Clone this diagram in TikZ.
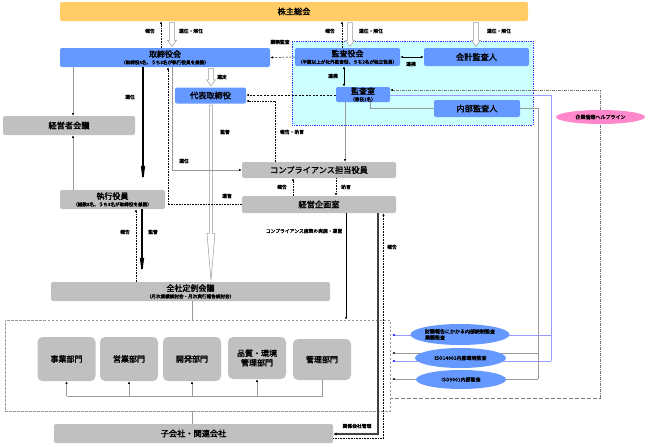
\documentclass[tikz,border=0pt]{standalone}
\usepackage{fontspec}
\setmainfont{Noto Sans CJK JP}[AutoFakeBold=2]
\usetikzlibrary{arrows.meta,calc,shapes.geometric}
\definecolor{bl}{HTML}{6699FF}
\definecolor{gr}{HTML}{C0C0C0}
\definecolor{og}{HTML}{FFCC66}
\definecolor{cy}{HTML}{CCFFFF}
\definecolor{pk}{HTML}{FF88CC}
\definecolor{bd}{HTML}{3333FF}
\definecolor{ln}{HTML}{999999}
\definecolor{bln}{HTML}{9999FF}
\pgfdeclarelayer{bgzero}
\pgfdeclarelayer{bgone}
\pgfsetlayers{bgzero,bgone,main}
\newcommand\fa{\fontsize{8.2}{9}\selectfont}
\newcommand\fb{\fontsize{8}{9}\selectfont}
\newcommand\fs{\fontsize{4.6}{5}\selectfont}
\newcommand\hollowarr[6]{%
 \draw[ln, fill=white, line width=0.5pt] let \p1=(#2), \p2=(#3) in
  ({#1pt-#4pt},{\y1-1.5pt}) -- ({#1pt-#4pt},{\y2+#6pt+1.5pt}) -- ({#1pt-#5pt},{\y2+#6pt+1.5pt}) -- ({#1pt},{\y2+1.5pt}) -- ({#1pt+#5pt},{\y2+#6pt+1.5pt}) -- ({#1pt+#4pt},{\y2+#6pt+1.5pt}) -- ({#1pt+#4pt},{\y1-1.5pt}) -- cycle;}
\tikzset{
 box/.style={rounded corners=2pt, inner sep=0pt, align=center, font=\fa\bfseries},
 twol/.style={font=\fontsize{4.6}{7}\selectfont\bfseries},
 bbox/.style={box, fill=bl},
 gbox/.style={box, fill=gr},
 dept/.style={box, fill=gr, rounded corners=5pt, minimum width=58pt, minimum height=44pt, font=\fontsize{8}{9.5}\selectfont\bfseries},
 ell/.style={ellipse, fill=bl, inner sep=0pt, align=left, font=\fontsize{5}{6}\selectfont\bfseries},
 lbl/.style={font=\fontsize{4.8}{5}\selectfont\bfseries, inner sep=0pt},
 tipS/.style={-{Latex[length=2.6pt,width=2.2pt]}},
 dotarr/.style={densely dotted, line width=0.6pt, tipS},
 dasharr/.style={dashed, dash pattern=on 2pt off 1.5pt, line width=0.5pt, tipS},
 grarr/.style={ln, line width=0.8pt, -{Latex[length=2.6pt,width=2.2pt,color=black]}},
 thickarr/.style={line width=1.6pt, -{Latex[length=24pt,width=4.5pt]}},
}
\begin{document}
\begin{tikzpicture}[x=1pt,y=-1pt]
\useasboundingbox (0,0) rectangle (648,447);
% cyan region
\begin{pgfonlayer}{bgzero}
\node[fill=cy, draw=bd, densely dotted, line width=0.8pt, minimum width=241pt, minimum height=84pt, inner sep=0pt] (cyan) at (412.5,83) {};
\end{pgfonlayer}
% main nodes
\node[box, fill=og, minimum width=468pt, minimum height=19pt] (sh) at (294,11.5) {株主総会};
\node[bbox, twol, minimum width=210pt, minimum height=19pt] (tb) at (165,57.5) {{\fb 取締役会}\\{\fs （取締役4名、うち3名が執行役員を兼務）}};
\node[bbox, twol, minimum width=105pt, minimum height=18pt] (ka) at (347.5,57) {{\fb 監査役会}\\{\fs （半数以上が社外監査役、うち2名が独立役員）}};
\node[bbox, minimum width=105pt, minimum height=18pt] (kk) at (476.5,57) {会計監査人};
\node[bbox, twol, minimum width=54pt, minimum height=15pt] (kr) at (363,94.5) {{\fb 監査室}\\{\fs （専任1名）}};
\node[bbox, minimum width=86pt, minimum height=17pt] (nk) at (477,108.5) {内部監査人};
\node[bbox, minimum width=71pt, minimum height=16pt] (dt) at (210.5,95.5) {代表取締役};
\node[gbox, minimum width=132pt, minimum height=19pt] (kg) at (69,125.5) {経営者会議};
\node[gbox, twol, minimum width=105pt, minimum height=19pt] (sy) at (112.5,199.5) {{\fb 執行役員}\\{\fs （総数8名、うち3名が取締役を兼務）}};
\node[gbox, minimum width=154pt, minimum height=16pt] (ca) at (319,170) {コンプライアンス担当役員};
\node[gbox, minimum width=154pt, minimum height=17pt] (kp) at (319,204.5) {経営企画室};
\node[gbox, twol, minimum width=279pt, minimum height=19pt] (zs) at (190.5,291.5) {{\fb 全社定例会議}\\{\fs （月次業績検討会・月次実行報告検討会）}};
\node[gbox, minimum width=279pt, minimum height=19pt] (ko) at (193.5,433.5) {子会社・関連会社};
% departments box
\node[draw=ln, dashed, dash pattern=on 2.5pt off 1.5pt, line width=0.6pt, minimum width=385pt, minimum height=91pt, inner sep=0pt] (dbox) at (197.5,365.5) {};
\node[dept] (d1) at (66.5,359) {事業部門};
\node[dept] (d2) at (129,359) {営業部門};
\node[dept] (d3) at (192,359) {開発部門};
\node[dept, minimum height=42pt] (d4) at (257,358) {品質・環境\\管理部門};
\node[dept, minimum height=41pt] (d5) at (322,359.5) {管理部門};
% ellipses
\node[ell, minimum width=90pt, minimum height=21pt] (e1) at (460,334.5) {財務報告にかかる内部統制監査\\業務監査};
\node[ell, minimum width=91pt, minimum height=20pt] (e2) at (460.5,358) {ISO14001内部環境監査};
\node[ell, minimum width=90pt, minimum height=19pt] (e3) at (461,379.5) {ISO9001内部監査};
\node[ellipse, fill=pk, inner sep=0pt, minimum width=89pt, minimum height=14pt, font=\fontsize{5}{6}\selectfont\bfseries] (hl) at (600.5,117) {企業倫理ヘルプライン};
% hollow arrows
\hollowarr{172}{sh.south}{tb.north}{2.5}{4.5}{6}
\hollowarr{350}{sh.south}{ka.north}{2.5}{4.5}{6}
\hollowarr{476}{sh.south}{kk.north}{2.5}{4.5}{6}
\hollowarr{211}{tb.south}{dt.north}{2.5}{4.5}{6}
\hollowarr{211}{dt.south}{zs.north}{1.6}{4}{47}
% report dotted arrows to shareholders
\draw[dotarr] (161,0 |- tb.north) -- (161,0 |- sh.south);
\draw[dotarr] (342,0 |- ka.north) -- (342,0 |- sh.south);
% audit board connections
\draw[dasharr] (ka.west) -- (tb.east);
\draw[line width=0.8pt, {Latex[length=3pt,width=2.6pt]}-{Latex[length=3pt,width=2.6pt]}] (ka.east) -- (kk.west);
\draw[line width=0.8pt, {Latex[length=3pt,width=2.6pt]}-{Latex[length=3pt,width=2.6pt]}] (344,0 |- ka.south) -- (344,0 |- kr.north);
\draw[dasharr] (kr.west |- 0,95) -- (dt.east |- 0,95);
\draw[ln, line width=0.8pt] (370,0 |- kr.south) |- (nk.west);
\draw[grarr] (345,0 |- kr.south) -- (345,0 |- ca.north);
\draw[dotarr] (275,0 |- ca.north) |- (dt.east |- 0,101);
% board lines
\draw[grarr] (172,0 |- tb.south) |- (ca.west);
\draw[dotarr] (kp.west) -| (168,0 |- tb.south);
\draw[thickarr] (143,0 |- tb.south) -- (143,0 |- sy.north);
\draw[grarr] (73,0 |- tb.south) -- (73,0 |- kg.north);
\draw[grarr] (73,0 |- sy.north) -- (73,0 |- kg.south);
\draw[thickarr] (142,0 |- sy.south) -- (142,0 |- zs.north);
\draw[dotarr] (136,0 |- zs.north) -- (136,0 |- sy.south);
% compliance / planning
\draw[dotarr] (293,0 |- kp.north) -- (293,0 |- ca.south);
\draw[dotarr] (336,0 |- ca.south) -- (336,0 |- kp.north);
\draw[line width=0.8pt, tipS] (346,0 |- kp.south) -- (346,0 |- dbox.north);
\draw[line width=1.5pt, black!75, -{Latex[length=3.5pt,width=3pt,color=black]}] (378,0 |- kp.south) |- (ko.east |- 0,434);
\draw[dotarr] (ko.east |- 0,438.5) -| (383.5,0 |- kp.south);
% meeting to departments
\draw[ln, line width=0.8pt] (192,0 |- zs.south) -- (192,0 |- dbox.north);
\draw[ln, line width=0.8pt] (192,0 |- dbox.south) -- (192,0 |- ko.north);
\draw[ln, line width=0.8pt] (66.5,396) -- (322,396) -- (322,0 |- d5.south);
\draw[grarr] (66.5,396) -- (d1.south);
\draw[grarr] (129,396) -- (d2.south);
\draw[grarr] (192,396) -- (d3.south);
\draw[grarr] (257,396) -- (d4.south);
% lines behind ellipses
\begin{pgfonlayer}{bgone}
\draw[bln, line width=0.8pt] (kr.east |- 0,95) -- (551,95) -- (551,361);
\draw[bln, line width=0.8pt, -{Latex[length=2.6pt,width=2.2pt,color=blue]}] (551,361) -- (392,361);
\draw[bln, line width=0.8pt, -{Latex[length=2.6pt,width=2.2pt,color=blue]}] (551,335) -- (392,335);
\draw[ln, line width=1pt] (nk.east) -| (538,379);
\draw[ln, line width=1pt, -{Latex[length=2.6pt,width=2.2pt,color=black]}] (538,379) -- (392,379);
\draw[ln, line width=1pt, -{Latex[length=2.6pt,width=2.2pt,color=black]}] (538,353) -- (392,353);
\draw[ln!80!black, dash pattern=on 3pt off 1.2pt on 0.6pt off 1.2pt, line width=0.7pt, -{Latex[length=2.6pt,width=2.2pt,color=black]}] (dbox.east |- 0,398) -| (600.5,0 |- hl.south) -- (hl.north) |- (kr.east |- 0,90);
\end{pgfonlayer}
% labels
\node[lbl] (l1) at (150,31) {報告};
\node[lbl] (l2) at (191,31) {選任・解任};
\node[lbl] (l3) at (330,31) {報告};
\node[lbl] (l4) at (371,31) {選任・解任};
\node[lbl] (l5) at (499,31) {選任・解任};
\node[lbl] (l6) at (280,42) {業務監査};
\node[lbl] (l7) at (411,64) {連携};
\node[lbl] (l8) at (333,76) {連携};
\node[lbl] (l9) at (222,77) {選定};
\node[lbl] (l10) at (130,97) {選任};
\node[lbl] (l11) at (225,132) {監督};
\node[lbl] (l12) at (292,132) {報告・助言};
\node[lbl] (l13) at (184,161) {選任};
\node[lbl] (l14) at (227,196) {運営};
\node[lbl] (l15) at (282,187) {報告};
\node[lbl] (l16) at (346,187) {助言};
\node[lbl] (l17) at (125,232) {報告};
\node[lbl] (l18) at (153,232) {監督};
\node[lbl] (l19) at (304,231) {コンプライアンス施策の実施・運営};
\node[lbl] (l20) at (392,247) {報告};
\node[lbl] (l21) at (357,426) {関係会社管理};
\end{tikzpicture}
\end{document}
